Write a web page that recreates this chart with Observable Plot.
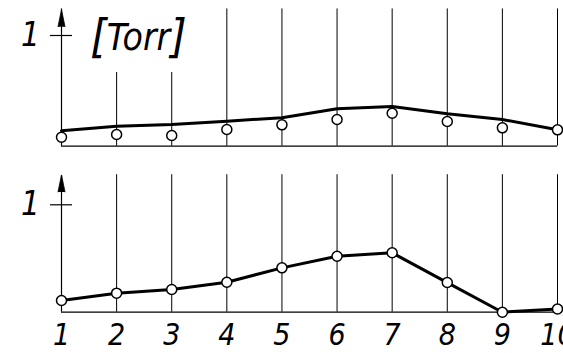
<!DOCTYPE html>
<html>
<head>
<meta charset="utf-8">
<script src="https://cdn.jsdelivr.net/npm/d3@7"></script>
<script src="https://cdn.jsdelivr.net/npm/@observablehq/plot@0.6"></script>
<style>
  html, body { margin: 0; padding: 0; background: #fff; }
  #chart svg { display: block; overflow: visible; }
</style>
</head>
<body>
<div id="chart"></div>
<script>
// Measurement positions along the horizontal axis
const positions = [1, 2, 3, 4, 5, 6, 7, 8, 9, 10];
// Upper panel: continuous curve and measured points (Torr)
const upperCurve = [0.14, 0.18, 0.196, 0.226, 0.257, 0.338, 0.359, 0.293, 0.241, 0.148];
const upperPoints = [0.081, 0.106, 0.097, 0.151, 0.193, 0.241, 0.298, 0.223, 0.166, 0.148];
// Lower panel: measured values joined by a line
const lowerValues = [0.109, 0.177, 0.211, 0.279, 0.413, 0.521, 0.553, 0.276, 0, 0.03];
// Axis tick and unit label
const yTicks = [1];
const unitLabel = "Torr";

const font = "'DejaVu Sans Condensed', 'DejaVu Sans', sans-serif";

const upperCurveData = positions.map((x, i) => ({x, y: upperCurve[i]}));
const upperPointData = positions.map((x, i) => ({x, y: upperPoints[i]}));
const lowerData = positions.map((x, i) => ({x, y: lowerValues[i]}));

// Grid lines: in the upper panel the 2nd and 3rd stop short under the unit label
const upperGrid = positions.slice(1).map(x => ({x, top: (x === 2 || x === 3) ? 0.666 : 1.24}));
const lowerGrid = positions.slice(1).map(x => ({x, top: 1.28}));

function axisMarks(tipValue, arrowBase) {
  return [
    Plot.ruleY([0], {x1: 1, x2: 10, stroke: "black", strokeWidth: 1.3}),
    Plot.ruleX([1], {y1: 0, y2: tipValue, stroke: "black", strokeWidth: 1.2}),
    Plot.vector([1], {x: d => d, y: arrowBase, length: 17, r: 3.5, shape: "spike", anchor: "start", fill: "black", stroke: "black", strokeWidth: 0.8}),
    Plot.ruleY(yTicks, {x1: 0.8, x2: 1.2, stroke: "black", strokeWidth: 1.2}),
    Plot.text(yTicks, {x: 1, y: d => d, text: d => String(d), dx: -31, fontSize: 33, fontStyle: "italic", fontFamily: font, fill: "black"})
  ];
}

// Unit label with tall square brackets around it
function unitMarks() {
  const bracket = {x: 1, y: 1, dy: 1, fontSize: 47, fontStyle: "italic", fontFamily: font, fill: "black"};
  return [
    Plot.text([unitLabel], {x: 1, y: 1, text: d => d, dx: 77, dy: 3, fontSize: 37, fontStyle: "italic", fontFamily: font, fill: "black"}),
    Plot.text(["["], {...bracket, text: d => d, dx: 37}),
    Plot.text(["]"], {...bracket, text: d => d, dx: 117})
  ];
}

const upper = Plot.plot({
  width: 563,
  height: 160,
  margin: 0,
  x: {domain: [1, 10], range: [61, 557], axis: null},
  y: {domain: [0, 1], range: [145.7, 35], axis: null},
  marks: [
    Plot.ruleX(upperGrid, {x: "x", y1: 0, y2: "top", stroke: "black", strokeWidth: 1}),
    ...axisMarks(1.24, 1.08),
    ...unitMarks(),
    Plot.line(upperCurveData, {x: "x", y: "y", stroke: "black", strokeWidth: 3}),
    Plot.dot(upperPointData, {x: "x", y: "y", r: 5, fill: "white", stroke: "black", strokeWidth: 1.5})
  ]
});

const lower = Plot.plot({
  width: 563,
  height: 193,
  margin: 0,
  x: {domain: [1, 10], range: [61, 557], axis: null},
  y: {domain: [0, 1], range: [151.7, 44.3], axis: null},
  marks: [
    Plot.ruleX(lowerGrid, {x: "x", y1: 0, y2: "top", stroke: "black", strokeWidth: 1}),
    ...axisMarks(1.27, 1.12),
    Plot.line(lowerData, {x: "x", y: "y", stroke: "black", strokeWidth: 3}),
    Plot.dot(lowerData, {x: "x", y: "y", r: 5, fill: "white", stroke: "black", strokeWidth: 1.5}),
    Plot.text(positions, {x: d => d, y: 0, text: d => String(d), dy: 23, fontSize: 30, fontStyle: "italic", fontFamily: font, fill: "black"})
  ]
});

const root = document.getElementById("chart");
root.append(upper, lower);
</script>
</body>
</html>
